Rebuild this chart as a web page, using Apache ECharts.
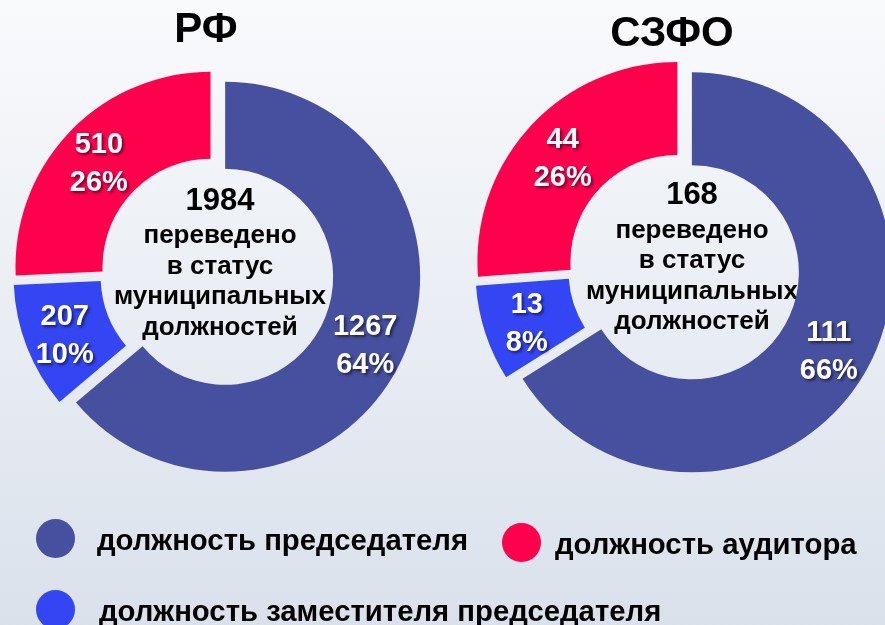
<!DOCTYPE html>
<html>
<head>
<meta charset="utf-8">
<script src="https://cdn.jsdelivr.net/npm/echarts@6/dist/echarts.min.js"></script>
<style>
  html, body { margin: 0; padding: 0; }
  #chart { width: 885px; height: 625px; }
</style>
</head>
<body>
<div id="chart"></div>
<script>
// categories (order of slices, clockwise from 12 o'clock)
var categories = ['должность председателя', 'должность заместителя председателя', 'должность аудитора'];
var rfValues = [1267, 207, 510];
var szfoValues = [111, 13, 44];
var titles = ['РФ', 'СЗФО'];
var centerCaption = ['переведено', 'в статус', 'муниципальных', 'должностей'];
var sliceColors = ['#46509F', '#3446F4', '#FF004D'];

var FONT = 'Arial, "Liberation Sans", sans-serif';

function sum(arr) {
  return arr.reduce(function (a, b) { return a + b; }, 0);
}

function buildData(values) {
  return categories.map(function (name, i) {
    return { name: name, value: values[i], selected: true, itemStyle: { color: sliceColors[i] } };
  });
}

function centerText(total) {
  return '{big|' + total + '}\n' + centerCaption.map(function (s) { return '{small|' + s + '}'; }).join('\n');
}

var labelStyle = {
  show: true,
  position: 'inside',
  formatter: '{c}\n{d}%',
  color: '#fff',
  fontFamily: FONT,
  fontWeight: 'bold',
  fontSize: 29,
  lineHeight: 38,
  textShadowColor: 'rgba(0,0,0,0.55)',
  textShadowBlur: 3,
  textShadowOffsetX: 2,
  textShadowOffsetY: 2,
  textBorderWidth: 0
};

var richCenter = {
  big: { fontSize: 31, fontWeight: 'bold', fontFamily: FONT, fill: '#000', lineHeight: 40, align: 'center' },
  small: { fontSize: 26, fontWeight: 'bold', fontFamily: FONT, fill: '#000', lineHeight: 30.5, align: 'center' }
};

var chart = echarts.init(document.getElementById('chart'));

function legendAt(name, left, top, gap) {
  return {
    data: [name], left: left, top: top, padding: 0,
    icon: 'circle', itemWidth: 39, itemHeight: 39,
    formatter: '{t|{name}}',
    textStyle: {
      color: '#000',
      rich: { t: { fontFamily: FONT, fontWeight: 'bold', fontSize: 29.3, color: '#000', padding: [6, 0, 0, gap] } }
    },
    selectedMode: false
  };
}

var titleStyle = { fontSize: 42, fontWeight: 'bold', fontFamily: FONT, fill: '#000', align: 'center', verticalAlign: 'middle' };

var option = {
  animation: false,
  backgroundColor: {
    type: 'linear', x: 0, y: 0, x2: 0, y2: 1,
    colorStops: [{ offset: 0, color: '#F9FAFC' }, { offset: 1, color: '#DAE1EB' }]
  },
  legend: [
    legendAt(categories[0], 36, 519, 17),
    legendAt(categories[2], 502, 523, 9),
    legendAt(categories[1], 36, 590, 19)
  ],
  graphic: [
    { type: 'text', x: 206, y: 30, style: Object.assign({ text: titles[0] }, titleStyle) },
    { type: 'text', x: 672, y: 34.5, style: Object.assign({ text: titles[1] }, titleStyle) },
    { type: 'text', x: 220, y: 262, style: { text: centerText(sum(rfValues)), rich: richCenter, align: 'center', verticalAlign: 'middle' } },
    { type: 'text', x: 692, y: 256.5, style: { text: centerText(sum(szfoValues)), rich: richCenter, align: 'center', verticalAlign: 'middle' } }
  ],
  series: [
    {
      type: 'pie',
      name: titles[0],
      center: [217, 273],
      radius: [108, 195],
      startAngle: 90,
      selectedMode: 'multiple',
      selectedOffset: 9,
      percentPrecision: 0,
      label: labelStyle,
      labelLayout: { dy: 4 },
      labelLine: { show: false },
      emphasis: { scale: false },
      data: buildData(rfValues)
    },
    {
      type: 'pie',
      name: titles[1],
      center: [684, 268],
      radius: [107, 200],
      startAngle: 90,
      selectedMode: 'multiple',
      selectedOffset: 9,
      percentPrecision: 0,
      label: labelStyle,
      labelLayout: { dy: 4 },
      labelLine: { show: false },
      emphasis: { scale: false },
      data: buildData(szfoValues)
    }
  ]
};

chart.setOption(option);
</script>
</body>
</html>
